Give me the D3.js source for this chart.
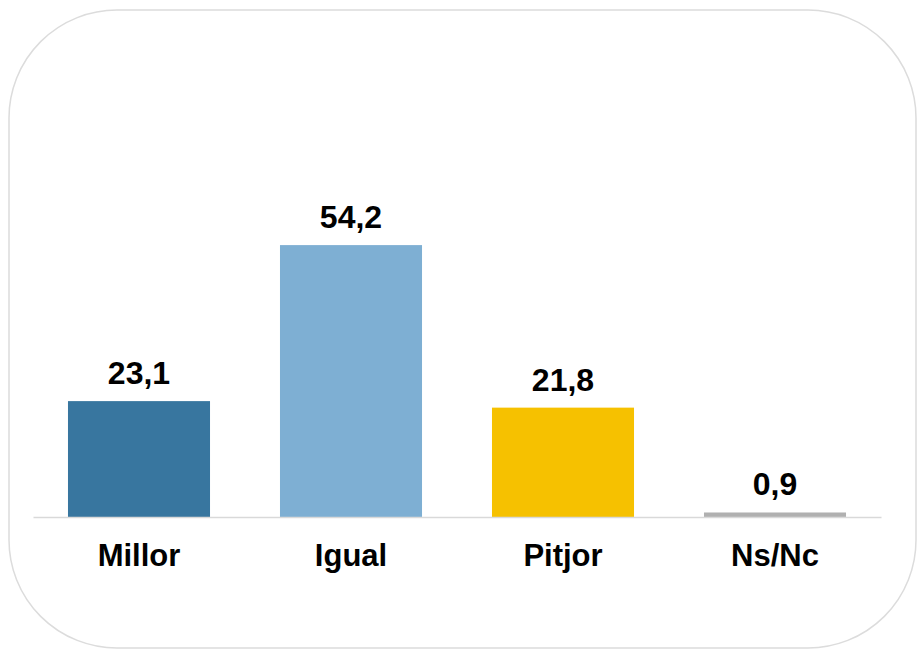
<!DOCTYPE html>
<html><head><meta charset="utf-8">
<script src="https://cdn.jsdelivr.net/npm/d3@7"></script>
<style>html,body{margin:0;padding:0;background:#fff;}</style>
</head><body>
<script>
const categories = ["Millor", "Igual", "Pitjor", "Ns/Nc"];
const values = [23.1, 54.2, 21.8, 0.9];
const valueLabels = ["23,1", "54,2", "21,8", "0,9"];
const colors = ["#38769F", "#7EAFD3", "#F6C100", "#B0B0B0"];

const W = 917, H = 650;
const svg = d3.select("body").append("svg").attr("width", W).attr("height", H);

svg.append("rect").attr("x", 9).attr("y", 10).attr("width", 907).attr("height", 638)
  .attr("rx", 108).attr("ry", 108).attr("fill", "#fff")
  .attr("stroke", "#DCDCDC").attr("stroke-width", 1.5);

const x = d3.scaleBand().domain(categories).range([33, 881]).paddingInner(0.33).paddingOuter(0.165);
const y = d3.scaleLinear().domain([0, 60]).range([517, 216]);

svg.selectAll("rect.bar").data(values).enter().append("rect").attr("class", "bar")
  .attr("x", (d, i) => x(categories[i])).attr("width", x.bandwidth())
  .attr("y", d => y(d)).attr("height", d => y(0) - y(d))
  .attr("fill", (d, i) => colors[i]);

const axis = svg.append("g").attr("transform", `translate(0,${y(0)})`)
  .call(d3.axisBottom(x).tickSize(0).tickPadding(0));
axis.select(".domain").attr("stroke", "#D9D9D9").attr("stroke-width", 1.5);
axis.selectAll(".tick text").attr("y", 48.5).attr("dy", 0)
  .attr("font-family", "Liberation Sans, Arial, sans-serif").attr("font-size", 31)
  .attr("font-weight", "bold").attr("fill", "#000");

svg.selectAll("text.val").data(values).enter().append("text").attr("class", "val")
  .attr("x", (d, i) => x(categories[i]) + x.bandwidth() / 2)
  .attr("y", d => y(d) - 17)
  .attr("text-anchor", "middle")
  .attr("font-family", "Liberation Sans, Arial, sans-serif").attr("font-size", 32)
  .attr("font-weight", "bold").attr("fill", "#000")
  .text((d, i) => valueLabels[i]);
</script>
</body></html>
